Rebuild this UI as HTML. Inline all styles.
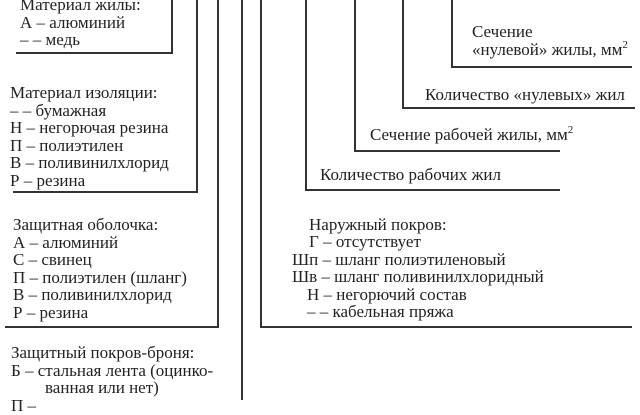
<!DOCTYPE html>
<html><head><meta charset="utf-8"><style>
body{margin:0;width:640px;height:400px;background:#fff;overflow:hidden;position:relative;font-family:"Liberation Serif","DejaVu Serif",serif;font-size:17px;color:#222}
.t{position:absolute;white-space:pre;line-height:17.5px}
svg{position:absolute;left:0;top:0}
sup{font-size:11px;line-height:0;vertical-align:7px}
</style></head><body>
<svg width="640" height="400" stroke="#333" stroke-width="2" fill="none">
<polyline points="172,0 172,53 16,53"/>
<polyline points="197,0 197,192 13,192"/>
<polyline points="218,0 218,327 5,327"/>
<line x1="242" y1="0" x2="242" y2="400"/>
<polyline points="261,0 261,327 632,327"/>
<polyline points="306,0 306,190 560,190"/>
<polyline points="355,0 355,151 560,151"/>
<polyline points="403,0 403,108 635,108"/>
<polyline points="452,0 452,67 632,67"/>
</svg>
<div class="t" style="left:20px;top:-4px">Материал жилы:
А – алюминий
– – медь</div>
<div class="t" style="left:10px;top:84px">Материал изоляции:
– – бумажная
Н – негорючая резина
П – полиэтилен
В – поливинилхлорид
Р – резина</div>
<div class="t" style="left:13px;top:216px">Защитная оболочка:
А – алюминий
С – свинец
П – полиэтилен (шланг)
В – поливинилхлорид
Р – резина</div>
<div class="t" style="left:11px;top:344px">Защитный покров-броня:
Б – стальная лента (оцинко-
        ванная или нет)
П – </div>
<div class="t" style="left:472px;top:23px">Сечение
«нулевой» жилы, мм<sup>2</sup></div>
<div class="t" style="left:425px;top:86px">Количество «нулевых» жил</div>
<div class="t" style="left:370px;top:126px">Сечение рабочей жилы, мм<sup>2</sup></div>
<div class="t" style="left:320px;top:166px">Количество рабочих жил</div>
<div class="t" style="left:309px;top:216px">Наружный покров:</div>
<div class="t" style="left:309px;top:233px">Г – отсутствует</div>
<div class="t" style="left:292px;top:250.5px">Шп – шланг полиэтиленовый</div>
<div class="t" style="left:292px;top:268px">Шв – шланг поливинилхлоридный</div>
<div class="t" style="left:307px;top:285.5px">Н – негорючий состав</div>
<div class="t" style="left:307px;top:303px">– – кабельная пряжа</div>
</body></html>
